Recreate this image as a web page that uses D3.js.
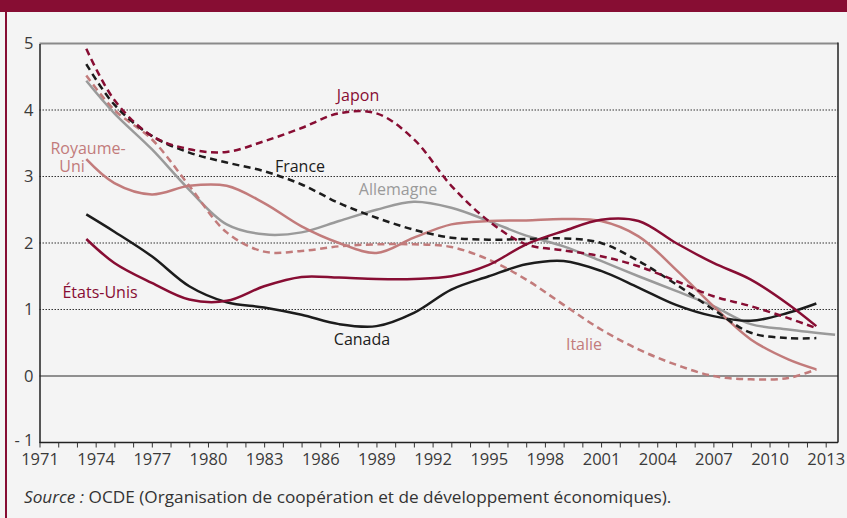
<!DOCTYPE html>
<html>
<head>
<meta charset="utf-8">
<script src="https://cdn.jsdelivr.net/npm/d3@7"></script>
<style>
  body { margin: 0; background: #f4f4f4; }
  text { font-family: "Open Sans", sans-serif; }
</style>
</head>
<body>
<div id="chart"></div>
<script>
// annees (moyennes lissees)
const years = [1973.5, 1975, 1977, 1979, 1981, 1983, 1985, 1987, 1989, 1991, 1993,
  1995, 1997, 1999, 2001, 2003, 2005, 2007, 2009, 2011, 2012.5];
const yearsAllemagne = [1973.5, 1975, 1977, 1979, 1981, 1983, 1985, 1987, 1989, 1991, 1993,
  1995, 1997, 1999, 2001, 2003, 2005, 2007, 2009, 2011, 2013.5];

const japon = [4.92, 4.15, 3.61, 3.41, 3.37, 3.53, 3.73, 3.95, 3.95, 3.56, 2.86,
  2.33, 1.98, 1.89, 1.80, 1.65, 1.43, 1.20, 1.05, 0.87, 0.72];
const france = [4.69, 4.08, 3.61, 3.36, 3.21, 3.08, 2.88, 2.60, 2.38, 2.20, 2.08,
  2.05, 2.06, 2.07, 2.00, 1.73, 1.38, 1.00, 0.65, 0.57, 0.57];
const allemagne = [4.44, 3.95, 3.41, 2.80, 2.28, 2.13, 2.16, 2.33, 2.50, 2.62, 2.53,
  2.33, 2.11, 1.95, 1.73, 1.50, 1.28, 1.05, 0.78, 0.70, 0.62];
const italie = [4.52, 4.00, 3.56, 2.86, 2.16, 1.87, 1.88, 1.95, 1.98, 1.98, 1.94,
  1.75, 1.45, 1.07, 0.70, 0.40, 0.17, 0.00, -0.05, -0.03, 0.10];
const royaumeUni = [3.26, 2.90, 2.73, 2.86, 2.86, 2.60, 2.25, 2.00, 1.85, 2.08, 2.28,
  2.33, 2.34, 2.36, 2.33, 2.10, 1.60, 1.05, 0.55, 0.25, 0.10];
const etatsUnis = [2.06, 1.70, 1.40, 1.15, 1.13, 1.35, 1.49, 1.48, 1.46, 1.46, 1.50,
  1.67, 1.98, 2.18, 2.35, 2.33, 2.00, 1.70, 1.45, 1.08, 0.75];
const canada = [2.43, 2.17, 1.80, 1.35, 1.11, 1.03, 0.92, 0.78, 0.75, 0.95, 1.30,
  1.50, 1.68, 1.73, 1.58, 1.33, 1.07, 0.90, 0.83, 0.95, 1.09];

const xTicks = d3.range(1971, 2014);
const xLabels = d3.range(1971, 2014, 3);
const yTicks = [-1, 0, 1, 2, 3, 4, 5];

function chartConfig() {
  let config = {
    crimson: "#870d33",
    rose: "#c27b7b",
    grey: "#9a9a9a",
    black: "#1c1c1c",
    width: 847,
    height: 518,
    left: 39.5,
    right: 838,
    top: 43.5,
    bottom: 442.5,
    lineWidth: 2.5,
    dash: "7,4.5"
  };
  config.svg = d3.select("#chart").append("svg")
    .attr("width", config.width)
    .attr("height", config.height);
  config.x = d3.scaleLinear().domain([1971, 2013]).range([config.left, 825.7]);
  config.y = d3.scaleLinear().domain([-1, 5]).range([config.bottom, config.top]);
  return config;
}

let cfg = chartConfig();

let series = [
  { name: "Allemagne", xs: yearsAllemagne, vals: allemagne, color: cfg.grey, dashed: false },
  { name: "Canada", xs: years, vals: canada, color: cfg.black, dashed: false },
  { name: "Royaume-Uni", xs: years, vals: royaumeUni, color: cfg.rose, dashed: false },
  { name: "Italie", xs: years, vals: italie, color: cfg.rose, dashed: true },
  { name: "France", xs: years, vals: france, color: cfg.black, dashed: true },
  { name: "États-Unis", xs: years, vals: etatsUnis, color: cfg.crimson, dashed: false },
  { name: "Japon", xs: years, vals: japon, color: cfg.crimson, dashed: true }
];

let labels = [
  { text: "Japon", x: 358, y: 101, color: cfg.crimson },
  { text: "France", x: 300, y: 172, color: cfg.black },
  { text: "Allemagne", x: 398, y: 195, color: cfg.grey },
  { text: "Royaume-", x: 88, y: 154, color: cfg.rose },
  { text: "Uni", x: 72, y: 172, color: cfg.rose },
  { text: "États-Unis", x: 100, y: 298, color: cfg.crimson },
  { text: "Canada", x: 362, y: 345, color: cfg.black },
  { text: "Italie", x: 584, y: 350, color: cfg.rose }
];

drawFrame();
drawGrid();
drawAxes();
drawLines();
drawLabels();

function drawFrame() {
  cfg.svg.append("rect")
    .attr("width", cfg.width).attr("height", cfg.height)
    .attr("fill", "#f4f4f4");
  // bandeau du titre (coupe)
  cfg.svg.append("rect")
    .attr("x", 0).attr("y", 0)
    .attr("width", cfg.width).attr("height", 12)
    .attr("fill", cfg.crimson);
  cfg.svg.append("rect")
    .attr("x", 5).attr("y", 12)
    .attr("width", 2).attr("height", cfg.height - 12)
    .attr("fill", cfg.crimson);

  cfg.svg.append("text")
    .attr("x", 24).attr("y", 503)
    .attr("font-size", 17.2)
    .attr("fill", "#333")
    .call(t => {
      t.append("tspan").attr("font-style", "italic").text("Source :");
      t.append("tspan").text(" OCDE (Organisation de coopération et de développement économiques).");
    });
}

function drawGrid() {
  cfg.svg.selectAll(".grid")
    .data([1, 2, 3, 4])
    .enter()
    .append("line")
    .attr("x1", cfg.left).attr("x2", cfg.right)
    .attr("y1", d => cfg.y(d)).attr("y2", d => cfg.y(d))
    .attr("stroke", "#333")
    .attr("stroke-width", 1)
    .attr("stroke-dasharray", "1.5,1.5");

  cfg.svg.append("line")
    .attr("x1", cfg.left).attr("x2", cfg.right)
    .attr("y1", cfg.y(0)).attr("y2", cfg.y(0))
    .attr("stroke", "#6e6e6e")
    .attr("stroke-width", 1.5);

  cfg.svg.append("line")
    .attr("x1", cfg.left).attr("x2", cfg.right)
    .attr("y1", cfg.y(5)).attr("y2", cfg.y(5))
    .attr("stroke", "#8a8a8a")
    .attr("stroke-width", 2);

  cfg.svg.append("line")
    .attr("x1", cfg.right).attr("x2", cfg.right)
    .attr("y1", cfg.y(5) - 1).attr("y2", cfg.bottom)
    .attr("stroke", "#222")
    .attr("stroke-width", 1.5);
}

function drawAxes() {
  let xAxis = d3.axisBottom(cfg.x)
    .tickValues(xTicks)
    .tickSize(5)
    .tickPadding(6)
    .tickFormat(d => xLabels.includes(d) ? d : "");
  let gx = cfg.svg.append("g")
    .attr("transform", `translate(0,${cfg.bottom})`)
    .call(xAxis);
  gx.select(".domain").attr("d", `M${cfg.left},0H${cfg.right}`).attr("stroke", "#222").attr("stroke-width", 1.5);
  gx.selectAll(".tick line").attr("stroke", "#333");
  gx.selectAll(".tick text")
    .attr("font-family", "Open Sans")
    .attr("font-size", 16.5)
    .attr("fill", "#3a3a3a");

  let yAxis = d3.axisLeft(cfg.y)
    .tickValues(yTicks)
    .tickSize(0)
    .tickPadding(6)
    .tickFormat(d => d < 0 ? "- " + Math.abs(d) : d);
  let gy = cfg.svg.append("g")
    .attr("transform", `translate(${cfg.left},0)`)
    .call(yAxis);
  gy.select(".domain").attr("stroke", "#222").attr("stroke-width", 1.5);
  gy.selectAll(".tick text")
    .attr("font-family", "Open Sans")
    .attr("font-size", 16.5)
    .attr("fill", "#3a3a3a");
  gy.selectAll(".tick")
    .filter(d => d < 0)
    .select("text")
    .attr("dy", "0.2em");
}

function drawLines() {
  let line = d3.line()
    .x(d => cfg.x(d[0]))
    .y(d => cfg.y(d[1]))
    .curve(d3.curveCatmullRom.alpha(0.5));

  cfg.svg.selectAll(".serie")
    .data(series)
    .enter()
    .append("path")
    .attr("d", s => line(s.xs.map((yr, i) => [yr, s.vals[i]])))
    .attr("fill", "none")
    .attr("stroke", s => s.color)
    .attr("stroke-width", cfg.lineWidth)
    .attr("stroke-dasharray", s => s.dashed ? cfg.dash : null);
}

function drawLabels() {
  cfg.svg.selectAll(".lbl")
    .data(labels)
    .enter()
    .append("text")
    .attr("x", d => d.x)
    .attr("y", d => d.y)
    .attr("text-anchor", "middle")
    .attr("font-size", 16)
    .attr("fill", d => d.color)
    .text(d => d.text);
}
</script>
</body>
</html>
